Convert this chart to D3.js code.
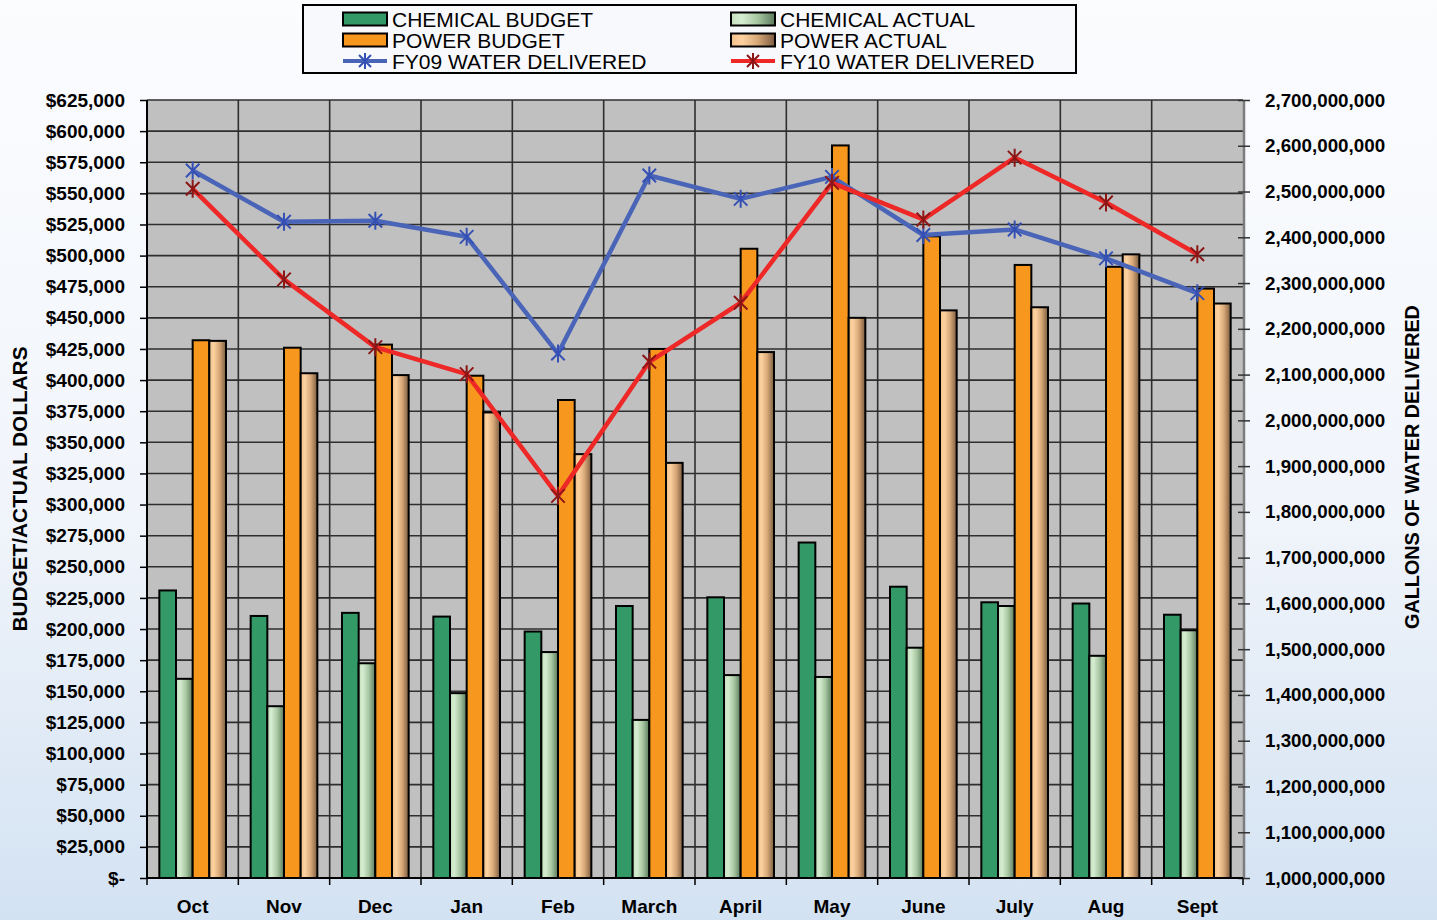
<!DOCTYPE html>
<html>
<head>
<meta charset="utf-8">
<script src="https://cdn.jsdelivr.net/npm/d3@7"></script>
<style>
  html, body { margin: 0; padding: 0; }
  body { width: 1437px; height: 920px; overflow: hidden; font-family: Arial, "Liberation Sans", sans-serif; }
</style>
</head>
<body>
<svg id="chart" width="1437" height="920"></svg>
<script>
// Data
const months = ["Oct", "Nov", "Dec", "Jan", "Feb", "March", "April", "May", "June", "July", "Aug", "Sept"];
const chemicalBudget = [231000, 210500, 213000, 210000, 198000, 218500, 225500, 269500, 234000, 221500, 220500, 211500];
const chemicalActual = [160000, 138000, 172500, 148500, 181500, 127000, 163000, 161500, 185000, 218500, 178500, 199000];
const powerBudget = [432000, 426000, 428500, 403500, 384000, 425000, 505500, 588500, 515500, 492500, 491000, 473500];
const powerActual = [431500, 405500, 404000, 374000, 340500, 333500, 422500, 450000, 456000, 458500, 501000, 461500];
const fy09Water = [2546e6, 2434e6, 2436e6, 2401e6, 2146e6, 2535e6, 2484e6, 2532e6, 2405e6, 2417e6, 2354e6, 2278e6];
const fy10Water = [2506e6, 2308e6, 2160e6, 2101e6, 1835e6, 2128e6, 2257e6, 2519e6, 2439e6, 2574e6, 2476e6, 2363e6];
const dollarTicks = d3.range(0, 625001, 25000);
const gallonTicks = d3.range(1000e6, 2700e6 + 1, 100e6);

const barSeries = [
  { name: "CHEMICAL BUDGET", values: chemicalBudget, fill: "#339966" },
  { name: "CHEMICAL ACTUAL", values: chemicalActual, fill: "url(#gradChem)" },
  { name: "POWER BUDGET", values: powerBudget, fill: "#f7971e" },
  { name: "POWER ACTUAL", values: powerActual, fill: "url(#gradPower)" }
];
const lineSeries = [
  { name: "FY09 WATER DELIVERED", values: fy09Water, stroke: "#4a65b8", marker: "#3550b5" },
  { name: "FY10 WATER DELIVERED", values: fy10Water, stroke: "#ee2727", marker: "#8c1616" }
];

const svg = d3.select("#chart");
const defs = svg.append("defs");

// page background
const bg = defs.append("linearGradient").attr("id", "gradBg")
  .attr("x1", 0).attr("y1", 0).attr("x2", 0).attr("y2", 1);
bg.append("stop").attr("offset", "0%").attr("stop-color", "#fbfcfe");
bg.append("stop").attr("offset", "55%").attr("stop-color", "#f1f5fb");
bg.append("stop").attr("offset", "100%").attr("stop-color", "#d3e2f2");

function hGrad(id, stops) {
  const g = defs.append("linearGradient").attr("id", id)
    .attr("x1", 0).attr("y1", 0).attr("x2", 1).attr("y2", 0);
  stops.forEach(s => g.append("stop").attr("offset", s[0]).attr("stop-color", s[1]));
}
hGrad("gradChem", [["0%", "#c4e0bd"], ["25%", "#d5ecd0"], ["60%", "#a8c7a2"], ["100%", "#5b7a5d"]]);
hGrad("gradPower", [["0%", "#f3c08a"], ["25%", "#fcd2a0"], ["60%", "#d8a878"], ["100%", "#7b5c40"]]);

svg.append("rect").attr("width", 1437).attr("height", 920).attr("fill", "url(#gradBg)");

// Plot area
const margin = { top: 100, right: 194, bottom: 42, left: 147 };
const width = 1437 - margin.left - margin.right;
const height = 920 - margin.top - margin.bottom;

const chart = svg.append("g")
  .attr("transform", `translate(${margin.left},${margin.top})`);

chart.append("rect")
  .attr("width", width).attr("height", height)
  .attr("fill", "#c0c0c0");

// Scales
const x0 = d3.scaleBand()
  .domain(months)
  .range([0, width])
  .paddingInner(0.27)
  .paddingOuter(0.135);

const cell = width / months.length;

const x1 = d3.scaleBand()
  .domain(barSeries.map(d => d.name))
  .range([0, x0.bandwidth()]);

const yLeft = d3.scaleLinear().domain([0, 625000]).range([height, 0]);
const yRight = d3.scaleLinear().domain([1000e6, 2700e6]).range([height, 0]);

// Horizontal gridlines
chart.append("g")
  .selectAll("line")
  .data(dollarTicks.slice(1))
  .join("line")
  .attr("x1", 0).attr("x2", width)
  .attr("y1", d => yLeft(d)).attr("y2", d => yLeft(d))
  .attr("stroke", "#2e2e2e")
  .attr("stroke-width", 1.6);

// Vertical gridlines at category boundaries
chart.append("g")
  .selectAll("line")
  .data(d3.range(1, months.length))
  .join("line")
  .attr("x1", d => d * cell).attr("x2", d => d * cell)
  .attr("y1", 0).attr("y2", height)
  .attr("stroke", "#2e2e2e")
  .attr("stroke-width", 1.6);

// Bars
const groups = chart.append("g")
  .selectAll("g")
  .data(months)
  .join("g")
  .attr("transform", d => `translate(${x0(d)},0)`);

groups.selectAll("rect")
  .data((m, i) => barSeries.map(s => ({ key: s.name, value: s.values[i], fill: s.fill })))
  .join("rect")
  .attr("x", d => x1(d.key))
  .attr("y", d => yLeft(d.value))
  .attr("width", x1.bandwidth())
  .attr("height", d => height - yLeft(d.value))
  .attr("fill", d => d.fill)
  .attr("stroke", "#000")
  .attr("stroke-width", 2);

// Asterisk marker path
function asterisk(r) {
  const a = r * 0.75;
  return `M0,${-r}L0,${r}M${-a},${-a}L${a},${a}M${-a},${a}L${a},${-a}`;
}

// Lines
const line = d3.line()
  .x((d, i) => x0(months[i]) + x0.bandwidth() / 2)
  .y(d => yRight(d));

lineSeries.forEach(s => {
  chart.append("path")
    .datum(s.values)
    .attr("fill", "none")
    .attr("stroke", s.stroke)
    .attr("stroke-width", 4.5)
    .attr("stroke-linejoin", "round")
    .attr("d", line);
  chart.append("g")
    .selectAll("path")
    .data(s.values)
    .join("path")
    .attr("transform", (d, i) => `translate(${x0(months[i]) + x0.bandwidth() / 2},${yRight(d)})`)
    .attr("d", asterisk(9))
    .attr("fill", "none")
    .attr("stroke", s.marker)
    .attr("stroke-width", 2);
});

// Left axis
const leftAxis = chart.append("g")
  .call(d3.axisLeft(yLeft)
    .tickValues(dollarTicks)
    .tickSize(7)
    .tickPadding(15)
    .tickFormat(d => d === 0 ? "$-" : "$" + d3.format(",")(d)));
leftAxis.select(".domain").attr("stroke", "#000").attr("stroke-width", 2).attr("d", `M0,0V${height}`);
leftAxis.selectAll(".tick line").attr("stroke", "#000").attr("stroke-width", 1.5);
leftAxis.selectAll("text")
  .attr("font-family", "Arial, 'Liberation Sans', sans-serif")
  .attr("font-size", 19).attr("font-weight", "bold").attr("fill", "#000");

// Right axis
const rightAxis = chart.append("g")
  .attr("transform", `translate(${width + 1},0)`)
  .call(d3.axisRight(yRight)
    .tickValues(gallonTicks)
    .tickSize(6)
    .tickPadding(15)
    .tickFormat(d3.format(",")));
rightAxis.select(".domain").attr("stroke", "#7d7d7d").attr("stroke-width", 2.5).attr("d", `M0,0V${height}`);
rightAxis.selectAll(".tick line").attr("stroke", "#333").attr("stroke-width", 1.5).attr("x1", -6);
rightAxis.selectAll("text")
  .attr("font-family", "Arial, 'Liberation Sans', sans-serif")
  .attr("font-size", 18.8).attr("font-weight", "bold").attr("fill", "#000");

// Bottom axis: ticks at category boundaries, labels centred
const bottom = chart.append("g").attr("transform", `translate(0,${height})`);
bottom.append("line")
  .attr("x1", 0).attr("x2", width)
  .attr("stroke", "#000").attr("stroke-width", 2);
bottom.selectAll(".btick")
  .data(d3.range(0, months.length + 1))
  .join("line")
  .attr("class", "btick")
  .attr("x1", d => d * cell).attr("x2", d => d * cell)
  .attr("y1", 0).attr("y2", 7)
  .attr("stroke", "#000").attr("stroke-width", 1.5);
bottom.selectAll("text")
  .data(months)
  .join("text")
  .attr("x", d => x0(d) + x0.bandwidth() / 2)
  .attr("y", 35)
  .attr("text-anchor", "middle")
  .attr("font-size", 19).attr("font-weight", "bold")
  .text(d => d);

// Axis titles
svg.append("text")
  .attr("transform", `translate(27,489) rotate(-90)`)
  .attr("text-anchor", "middle")
  .attr("font-size", 20.8).attr("font-weight", "bold")
  .text("BUDGET/ACTUAL DOLLARS");

svg.append("text")
  .attr("transform", `translate(1419,467) rotate(-90)`)
  .attr("text-anchor", "middle")
  .attr("font-size", 19.8).attr("font-weight", "bold")
  .text("GALLONS OF WATER DELIVERED");

// Legend
const legend = svg.append("g");
legend.append("rect")
  .attr("x", 303).attr("y", 5).attr("width", 773).attr("height", 68)
  .attr("fill", "#f8f9fc").attr("stroke", "#000").attr("stroke-width", 2);

const legendItems = [
  { s: barSeries[0], col: 0, row: 0, type: "bar" },
  { s: barSeries[1], col: 1, row: 0, type: "bar" },
  { s: barSeries[2], col: 0, row: 1, type: "bar" },
  { s: barSeries[3], col: 1, row: 1, type: "bar" },
  { s: lineSeries[0], col: 0, row: 2, type: "line" },
  { s: lineSeries[1], col: 1, row: 2, type: "line" }
];

const li = legend.selectAll(".li")
  .data(legendItems)
  .join("g")
  .attr("class", "li")
  .attr("transform", d => `translate(${343 + d.col * 388},${19 + d.row * 21})`);

li.filter(d => d.type === "bar")
  .append("rect")
  .attr("x", 0).attr("y", -6.5).attr("width", 44).attr("height", 13)
  .attr("fill", d => d.s.fill)
  .attr("stroke", "#000").attr("stroke-width", 2);

li.filter(d => d.type === "line")
  .append("line")
  .attr("x1", 0).attr("x2", 44)
  .attr("stroke", d => d.s.stroke).attr("stroke-width", 4);

li.filter(d => d.type === "line")
  .append("path")
  .attr("transform", "translate(22,0)")
  .attr("d", asterisk(8))
  .attr("fill", "none")
  .attr("stroke", d => d.s.marker).attr("stroke-width", 2);

li.append("text")
  .attr("x", 49).attr("y", 7.5)
  .attr("font-size", 21)
  .attr("fill", "#000")
  .text(d => d.s.name);
</script>
</body>
</html>
